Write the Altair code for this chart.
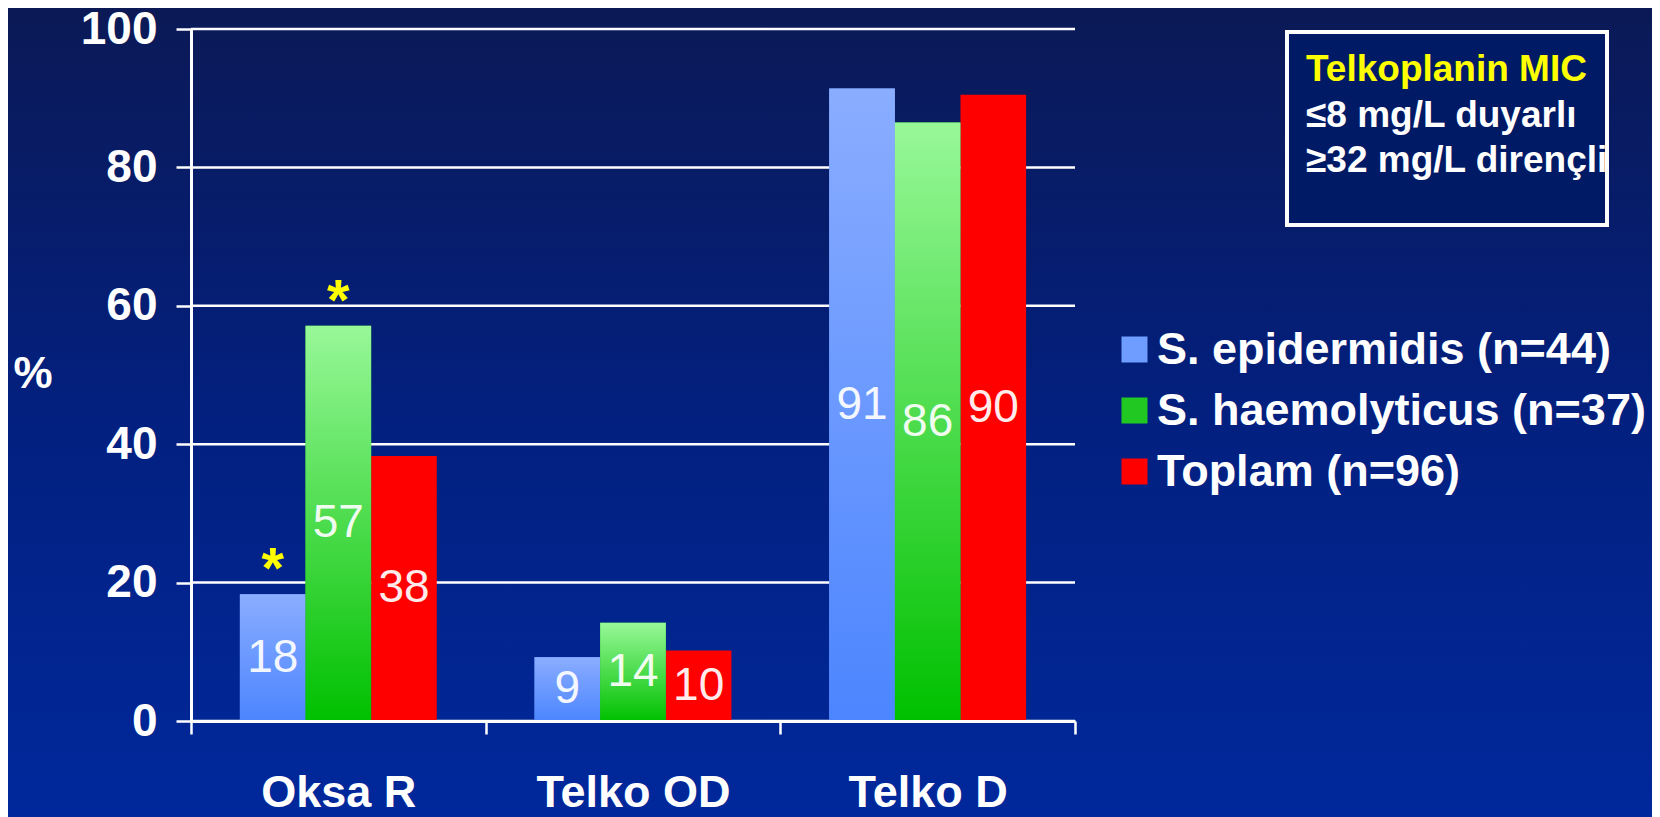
import altair as alt
import pandas as pd

categories = ["Oksa R", "Telko OD", "Telko D"]
series = ["S. epidermidis (n=44)", "S. haemolyticus (n=37)", "Toplam (n=96)"]
epi_values = [18.3, 9.2, 91.4]
hae_values = [57.1, 14.2, 86.5]
top_values = [38.3, 10.2, 90.5]
epi_labels = ["18", "9", "91"]
hae_labels = ["57", "14", "86"]
top_labels = ["38", "10", "90"]
star_marks = [("Oksa R", "S. epidermidis (n=44)"), ("Oksa R", "S. haemolyticus (n=37)")]
y_ticks = [0, 20, 40, 60, 80, 100]
info_lines = ["Telkoplanin MIC", "≤8 mg/L duyarlı", "≥32 mg/L dirençli"]

rows = []
for s, vals, labs in zip(series, [epi_values, hae_values, top_values],
                         [epi_labels, hae_labels, top_labels]):
    for c, v, l in zip(categories, vals, labs):
        rows.append({"category": c, "series": s, "value": v, "label": l,
                     "star": (c, s) in star_marks})
df = pd.DataFrame(rows)

W, H = 884, 692
FONT = "Liberation Sans"

x_axis = alt.Axis(title=None, labelAngle=0, labelFont=FONT, labelFontSize=45,
                  labelFontWeight="bold", labelColor="white", labelPadding=36,
                  labelLimit=500,
                  domainColor="white", domainWidth=3, tickColor="white",
                  tickWidth=2.5, tickSize=13, tickBand="extent", grid=False, zindex=1)
y_axis = alt.Axis(values=y_ticks, title="%", titleAngle=0, titleX=-158.5, titleY=345,
                  titleAlign="center", titleBaseline="middle", titleFont=FONT,
                  titleFontSize=44, titleFontWeight="bold", titleColor="white",
                  labelFont=FONT, labelFontSize=46, labelFontWeight="bold",
                  labelColor="white", labelPadding=19, domainColor="white",
                  domainWidth=3, tickColor="white", tickWidth=2.5, tickSize=15,
                  grid=False, zindex=1)

x_enc = alt.X("category:N", sort=categories,
              scale=alt.Scale(domain=categories, paddingInner=0, paddingOuter=0),
              axis=x_axis)
xo_enc = alt.XOffset("series:N", sort=series,
                     scale=alt.Scale(domain=series, paddingInner=0, paddingOuter=0.745))
y_scale = alt.Scale(domain=[0, 100], nice=False)


def grad(c_top, c_bot):
    return alt.LinearGradient(gradient="linear",
                              stops=[alt.GradientStop(color=c_top, offset=0),
                                     alt.GradientStop(color=c_bot, offset=1)],
                              x1=0, x2=0, y1=0, y2=1)


bg_grad = alt.LinearGradient(gradient="linear",
                             stops=[alt.GradientStop(color="#0b1956", offset=0),
                                    alt.GradientStop(color="#03207f", offset=0.5),
                                    alt.GradientStop(color="#00289c", offset=1)],
                             x1=0, x2=0, y1=0, y2=1)

one = pd.DataFrame({"k": [0]})

bg = alt.Chart(one).mark_rect(color=bg_grad).encode(
    x=alt.value(-183), x2=alt.value(W + 580), y=alt.value(-21), y2=alt.value(H + 100))

grid = alt.Chart(pd.DataFrame({"value": y_ticks})).mark_rule(
    color="white", strokeWidth=2.5).encode(
    y=alt.Y("value:Q", scale=y_scale, axis=y_axis))

base_bars = alt.Chart(df).mark_bar().encode(
    x=x_enc, xOffset=xo_enc,
    y=alt.Y("value:Q", scale=y_scale, axis=y_axis),
    color=alt.Color("series:N", sort=series,
                    scale=alt.Scale(domain=series, range=["#6e9dff", "#22c822", "#ff0000"]),
                    legend=alt.Legend(title=None, orient="none", legendX=921, legendY=298,
                                      labelFont=FONT, labelFontSize=45,
                                      labelFontWeight="bold", labelColor="white",
                                      labelLimit=800, symbolType="square",
                                      symbolSize=676, symbolStrokeWidth=0,
                                      symbolOpacity=1, labelOffset=0, padding=0,
                                      rowPadding=15)))

blue_bars = alt.Chart(df).transform_filter(
    alt.FieldEqualPredicate(field="series", equal=series[0])).mark_bar(
    color=grad("#8aadff", "#4c85ff")).encode(
    x=x_enc, xOffset=xo_enc, y=alt.Y("value:Q", scale=y_scale, axis=y_axis))

green_bars = alt.Chart(df).transform_filter(
    alt.FieldEqualPredicate(field="series", equal=series[1])).mark_bar(
    color=grad("#98f898", "#00c000")).encode(
    x=x_enc, xOffset=xo_enc, y=alt.Y("value:Q", scale=y_scale, axis=y_axis))

labels = alt.Chart(df).transform_calculate(mid="datum.value / 2").mark_text(
    font=FONT, fontSize=46, color="white", opacity=0.92, baseline="middle",
    align="center").encode(
    x=x_enc, xOffset=xo_enc, y=alt.Y("mid:Q", scale=y_scale, axis=y_axis),
    text="label:N")

stars = alt.Chart(df).transform_filter("datum.star").mark_text(
    text="*", font=FONT, fontSize=58, fontWeight="bold", color="#ffff00",
    baseline="alphabetic", align="center", dy=-6).encode(
    x=x_enc, xOffset=xo_enc, y=alt.Y("value:Q", scale=y_scale, axis=y_axis))

info_box = alt.Chart(one).mark_rect(fill="#001a66", stroke="white", strokeWidth=4).encode(
    x=alt.value(1096), x2=alt.value(1416), y=alt.value(3), y2=alt.value(196))

info_layers = []
for i, (txt, col, yy) in enumerate(zip(info_lines, ["#ffff00", "white", "white"], [52, 98, 143])):
    info_layers.append(
        alt.Chart(pd.DataFrame({"t": [txt]})).mark_text(
            font=FONT, fontSize=37, fontWeight="bold", color=col, align="left",
            baseline="alphabetic").encode(
            x=alt.value(1115), y=alt.value(yy), text="t:N"))

chart = alt.layer(bg, grid, base_bars, blue_bars, green_bars, labels, stars,
                  info_box, *info_layers).properties(
    width=W, height=H,
    autosize=alt.AutoSizeParams(type="none"),
    padding={"left": 183, "top": 21, "right": 577, "bottom": 96},
    background="#0b1956",
).configure_view(stroke=None)

chart.save("out.html", embed_options={"renderer": "svg", "actions": False})
